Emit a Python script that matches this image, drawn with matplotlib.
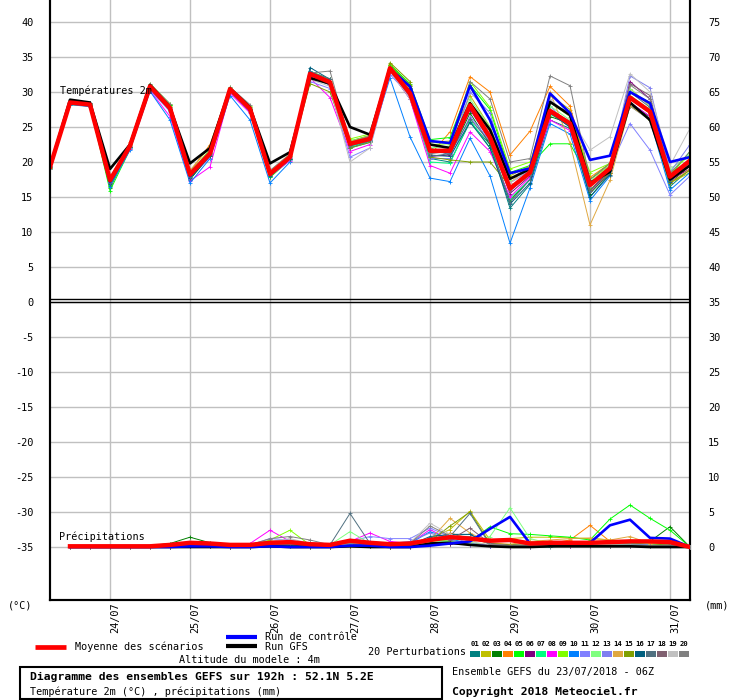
import matplotlib
matplotlib.use("Agg")
import matplotlib.pyplot as plt
from matplotlib.lines import Line2D
from matplotlib.patches import Rectangle
from matplotlib.transforms import ScaledTranslation

plt.rcParams['font.family'] = ['DejaVu Sans Mono']

# échéances en heures depuis le 23/07/2018 06Z
hours = list(range(0, 193, 6))
precip_hours = hours[1:]

day_ticks = [18, 42, 66, 90, 114, 138, 162, 186]
day_labels = ["24/07", "25/07", "26/07", "27/07", "28/07", "29/07", "30/07", "31/07"]

# températures 2m (°C)
temp_mean = [19.3, 28.5, 28.2, 17.4, 22.3, 30.8, 27.7, 18.2, 21.2, 30.4, 27.6, 18.3, 20.7, 32.6, 31.4, 22.6, 23.3,
             33.4, 29.8, 21.6, 21.6, 28.1, 23.5, 16.2, 18.5, 27.3, 25.5, 16.7, 19.1, 29.2, 27.2, 17.9, 20.2]
temp_control = [19.2, 28.5, 28.2, 17.2, 22.3, 30.7, 27.6, 18.0, 21.1, 30.4, 27.5, 18.2, 20.6, 32.7, 31.5, 22.5, 23.4,
                33.3, 30.8, 23.0, 22.7, 30.9, 26.0, 18.4, 19.1, 29.8, 27.0, 20.3, 20.9, 30.0, 28.4, 20.0, 20.7]
temp_gfs = [19.3, 28.9, 28.5, 19.0, 22.5, 31.0, 27.8, 19.8, 22.0, 30.5, 27.8, 19.8, 21.4, 32.0, 31.2, 25.0, 23.9,
            33.2, 30.0, 22.5, 22.0, 28.4, 24.6, 17.6, 19.0, 28.6, 26.7, 17.0, 18.6, 28.5, 26.0, 17.5, 19.5]

t01 = [19.0, 28.3, 28.0, 16.6, 22.0, 30.5, 27.3, 17.6, 20.8, 30.0, 27.2, 17.9, 20.4, 32.2, 31.0, 22.0, 23.0,
       33.0, 29.0, 20.5, 20.0, 25.7, 22.5, 13.4, 16.8, 26.0, 24.8, 15.0, 18.4, 28.5, 26.5, 16.5, 19.0]
t02 = [19.1, 28.6, 28.3, 17.0, 22.4, 30.9, 28.0, 18.0, 21.5, 30.5, 27.9, 18.1, 20.9, 32.0, 31.3, 22.3, 23.5,
       34.0, 31.0, 22.8, 23.0, 29.5, 25.0, 18.0, 19.5, 29.5, 27.5, 17.5, 19.5, 29.0, 27.0, 17.0, 18.5]
t03 = [19.2, 28.4, 28.1, 16.3, 22.1, 30.7, 28.1, 17.5, 21.0, 30.2, 27.6, 18.0, 20.4, 32.8, 31.6, 22.4, 23.0,
       33.8, 30.8, 22.0, 21.0, 27.0, 22.5, 14.5, 17.5, 26.5, 25.5, 15.5, 18.5, 28.0, 26.5, 17.0, 19.5]
t04 = [19.4, 28.7, 28.4, 17.6, 22.8, 31.0, 27.9, 18.6, 22.5, 30.6, 27.8, 18.5, 21.0, 32.9, 31.8, 22.8, 23.6,
       33.6, 30.5, 21.0, 24.3, 32.2, 30.0, 21.0, 24.4, 30.8, 28.0, 17.8, 19.8, 30.5, 28.0, 18.5, 20.0]
t05 = [19.0, 28.2, 28.0, 15.9, 21.8, 30.6, 28.2, 17.8, 21.3, 30.1, 27.7, 17.8, 20.3, 32.4, 31.2, 23.0, 23.8,
       33.9, 31.2, 23.2, 23.5, 31.0, 27.5, 18.5, 19.5, 22.6, 22.6, 17.5, 19.8, 30.0, 28.5, 18.0, 21.5]
t06 = [19.3, 28.5, 28.2, 17.3, 22.2, 30.4, 27.4, 18.3, 21.0, 30.3, 27.5, 18.4, 20.6, 32.5, 31.0, 22.5, 23.2,
       33.2, 29.5, 20.8, 21.0, 27.5, 23.0, 15.5, 18.0, 27.0, 25.0, 16.0, 18.8, 31.5, 29.0, 17.5, 19.0]
t07 = [19.2, 28.4, 28.3, 16.8, 22.0, 30.8, 27.8, 17.9, 21.1, 30.4, 27.4, 18.2, 20.5, 32.6, 31.5, 22.2, 23.0,
       33.5, 29.5, 20.0, 19.8, 26.0, 22.0, 14.8, 17.5, 26.8, 25.5, 16.5, 19.0, 29.0, 27.5, 17.8, 20.5]
t08 = [19.1, 28.3, 28.0, 17.0, 21.8, 30.2, 26.5, 17.3, 19.3, 29.8, 27.0, 18.0, 20.2, 32.0, 29.2, 21.5, 22.5,
       33.0, 29.0, 19.5, 18.4, 24.3, 21.5, 15.0, 17.8, 26.0, 24.5, 15.8, 18.5, 28.5, 26.5, 17.2, 19.5]
t09 = [19.2, 28.6, 28.5, 16.9, 22.4, 31.2, 28.3, 18.5, 21.8, 30.7, 28.0, 18.3, 20.8, 33.0, 31.8, 23.3, 24.0,
       33.8, 30.5, 22.5, 22.6, 31.5, 27.8, 19.0, 20.0, 28.5, 26.5, 18.5, 19.8, 29.5, 27.5, 18.5, 21.0]
t10 = [19.0, 28.2, 27.9, 16.5, 21.7, 30.1, 26.0, 17.0, 20.5, 29.5, 26.0, 17.0, 20.0, 33.0, 31.0, 22.0, 22.8,
       32.0, 23.6, 17.7, 17.2, 23.4, 18.0, 8.4, 16.3, 25.5, 24.0, 14.5, 18.0, 28.0, 26.0, 16.0, 18.5]
t11 = [19.1, 28.4, 28.1, 17.2, 22.0, 30.3, 27.2, 18.0, 20.6, 30.0, 27.3, 18.1, 20.3, 31.5, 30.5, 20.7, 22.0,
       32.5, 29.5, 20.5, 20.5, 26.5, 23.0, 16.0, 18.2, 28.0, 25.0, 17.0, 19.2, 25.5, 21.7, 15.3, 18.0]
t12 = [19.3, 28.5, 28.3, 17.5, 22.5, 30.9, 27.9, 18.1, 21.5, 30.4, 27.7, 18.6, 20.9, 32.7, 31.5, 23.0, 23.6,
       33.4, 30.0, 22.0, 22.3, 29.0, 25.0, 17.5, 19.0, 28.0, 26.0, 17.2, 19.5, 30.5, 28.0, 19.0, 21.0]
t13 = [19.4, 28.6, 28.4, 17.4, 22.3, 30.6, 27.6, 18.2, 21.2, 30.5, 27.8, 18.4, 20.6, 32.3, 31.0, 22.8, 23.3,
       33.2, 30.0, 21.5, 21.2, 30.0, 27.0, 17.0, 18.8, 27.5, 25.8, 16.5, 19.0, 32.3, 30.6, 18.5, 22.5]
t14 = [19.2, 28.5, 28.2, 17.5, 22.6, 30.9, 27.8, 18.8, 22.2, 30.6, 27.9, 18.7, 21.2, 32.8, 31.6, 22.9, 23.8,
       33.3, 29.8, 22.5, 22.0, 28.5, 24.0, 17.0, 19.5, 30.0, 22.7, 11.0, 17.4, 28.0, 26.0, 17.0, 19.0]
t15 = [19.2, 28.4, 28.1, 17.3, 22.2, 30.5, 27.5, 18.0, 20.9, 30.2, 27.4, 18.2, 20.5, 31.2, 30.0, 22.0, 22.8,
       34.2, 31.5, 20.7, 20.3, 20.0, 20.0, 16.5, 18.3, 27.5, 25.0, 16.0, 18.5, 28.5, 26.0, 17.0, 18.8]
t16 = [19.3, 28.6, 28.3, 16.8, 22.1, 30.7, 27.6, 17.7, 20.9, 30.3, 27.6, 18.0, 20.5, 33.5, 31.8, 22.4, 23.2,
       33.6, 30.6, 21.0, 20.8, 25.7, 22.0, 14.0, 17.0, 27.0, 25.0, 15.0, 18.2, 29.0, 27.0, 17.2, 20.0]
t17 = [19.3, 28.5, 28.2, 17.0, 22.2, 30.8, 27.8, 17.9, 21.1, 30.5, 27.5, 18.3, 20.7, 32.9, 31.9, 22.3, 23.0,
       33.5, 29.7, 20.8, 21.2, 26.2, 22.8, 14.2, 17.5, 28.5, 27.0, 15.8, 18.8, 30.0, 27.8, 17.5, 19.8]
t18 = [19.4, 28.7, 28.4, 17.6, 22.3, 30.6, 27.7, 18.4, 21.3, 30.4, 27.6, 18.5, 20.8, 32.4, 31.2, 22.6, 23.4,
       33.1, 29.3, 21.2, 21.5, 27.8, 23.8, 15.8, 18.5, 27.0, 25.5, 16.8, 19.3, 31.2, 29.5, 17.8, 20.5]
t19 = [19.0, 28.4, 28.2, 17.6, 22.5, 30.5, 27.9, 18.3, 21.4, 30.1, 27.9, 18.4, 20.8, 31.8, 30.8, 20.0, 22.0,
       33.0, 29.0, 21.5, 22.0, 28.0, 24.0, 17.0, 19.0, 29.0, 26.5, 21.7, 23.6, 32.6, 30.0, 19.5, 24.8]
t20 = [19.3, 28.7, 28.5, 17.8, 22.6, 31.2, 28.3, 18.6, 21.6, 30.7, 28.2, 18.8, 21.1, 32.7, 33.0, 22.8, 23.7,
       33.4, 30.2, 21.3, 21.7, 31.5, 29.0, 20.0, 20.5, 32.3, 30.9, 17.5, 19.8, 31.0, 29.0, 18.3, 21.5]

# précipitations (mm), de +6h à +192h
precip_mean = [0.1, 0.1, 0.1, 0.1, 0.1, 0.3, 0.6, 0.5, 0.3, 0.3, 0.6, 0.7, 0.4, 0.3, 0.9, 0.6,
               0.4, 0.5, 1.0, 1.4, 1.2, 0.9, 1.0, 0.5, 0.6, 0.6, 0.6, 0.7, 0.8, 0.8, 0.7, 0]
precip_control = [0, 0, 0, 0, 0, 0, 0.1, 0.1, 0, 0, 0.1, 0, 0, 0, 0.2, 0.2,
                  0, 0, 0.2, 0.5, 0.8, 2.6, 4.3, 0.5, 0.5, 0.6, 0.6, 3.1, 3.9, 1.3, 1.2, 0]
precip_gfs = [0, 0, 0, 0, 0, 0, 0, 0, 0, 0, 0.1, 0, 0, 0, 0.1, 0,
              0, 0, 0.5, 0.6, 0.3, 0.1, 0, 0, 0.1, 0.1, 0.1, 0.1, 0.1, 0, 0, 0]

p01 = [0, 0, 0, 0, 0, 0, 0.3, 0.2, 0, 0, 0.2, 0.3, 0.1, 0, 0.3, 0.2,
       0, 0, 1.0, 1.8, 1.8, 0.5, 0, 0, 0, 0.2, 0.3, 0.2, 0.5, 0.3, 0.2, 0]
p02 = [0, 0, 0, 0, 0, 0, 0.2, 0.2, 0, 0, 0.3, 0.4, 0.2, 0, 0.3, 0.3,
       0.2, 0.3, 1.2, 2.5, 5.1, 1.0, 1.2, 1.4, 1.4, 1.3, 1.2, 1.0, 0.8, 0.3, 0.2, 0]
p03 = [0, 0, 0, 0, 0.2, 0.5, 1.4, 0.6, 0.2, 0, 0.3, 0.2, 0, 0, 0.2, 0.2,
       0, 0.2, 0.5, 0.5, 0.4, 0.2, 0.3, 0.4, 0.3, 0.3, 0.5, 0.4, 0.3, 0.8, 2.9, 0]
p04 = [0, 0, 0, 0, 0, 0.2, 0.3, 0.2, 0, 0.2, 0.8, 0.6, 0.2, 0, 0.2, 0.3,
       0.2, 0.3, 1.0, 2.0, 1.2, 0.5, 0.3, 0.4, 0.5, 1.0, 3.1, 0.8, 0.5, 0.4, 0.2, 0]
p05 = [0, 0, 0, 0, 0, 0.2, 0.3, 0.3, 0, 0, 0.3, 0.4, 0.2, 0, 0.4, 0.3,
       0, 0.2, 0.5, 0.6, 0.8, 2.9, 1.9, 1.8, 1.6, 1.4, 1.0, 4.0, 6.0, 4.1, 2.4, 0]
p06 = [0, 0, 0, 0, 0, 0, 0.2, 0.1, 0, 0, 0.5, 0.3, 0, 0, 0.2, 0.2,
       0, 0, 0.3, 0.5, 0.3, 0.2, 0, 0, 0.2, 0.2, 0.2, 0.3, 0.2, 0.2, 0.3, 0]
p07 = [0, 0, 0, 0, 0, 0.1, 0.2, 0.2, 0, 0, 0.3, 0.4, 0.1, 0, 0.5, 0.4,
       0.1, 0.2, 0.6, 0.8, 0.5, 0.3, 0.2, 0.2, 0.2, 0.3, 0.4, 0.3, 0.5, 0.4, 0.2, 0]
p08 = [0, 0, 0, 0, 0, 0, 0.2, 0.2, 0, 0.5, 2.4, 0.8, 0.2, 0, 0.8, 2.0,
       0.8, 0.5, 2.5, 1.0, 0.4, 0.2, 0, 0.2, 0.2, 0.2, 0.3, 0.3, 0.2, 0.2, 0.2, 0]
p09 = [0, 0, 0, 0, 0, 0.2, 0.4, 0.5, 0.3, 0.2, 1.0, 2.4, 0.3, 0, 0.4, 0.3,
       0.2, 0.3, 0.8, 1.0, 0.6, 0.3, 0.2, 0.3, 0.3, 0.5, 0.6, 0.5, 1.0, 0.6, 0.4, 0]
p10 = [0, 0, 0, 0, 0, 0, 0.1, 0.1, 0, 0, 0.3, 0.2, 0.3, 0.4, 0.5, 0.3,
       0.2, 0.5, 2.2, 1.2, 0.4, 0.2, 0.3, 0.2, 0.3, 0.5, 0.6, 0.4, 0.3, 0.2, 0.2, 0]
p11 = [0, 0, 0, 0, 0, 0.2, 0.4, 0.4, 0.2, 0.3, 1.2, 1.0, 0.4, 0.2, 0.8, 1.5,
       1.2, 1.2, 2.7, 1.5, 0.5, 0.3, 0.2, 0.2, 0.3, 0.4, 0.4, 0.3, 0.4, 0.3, 0.2, 0]
p12 = [0, 0, 0, 0, 0, 0.3, 0.5, 0.5, 0.2, 0.2, 0.6, 0.5, 0.3, 0.3, 2.2, 0.5,
       0.3, 0.3, 1.0, 0.8, 0.6, 1.5, 5.6, 1.2, 0.5, 0.4, 0.5, 0.6, 0.8, 0.5, 0.3, 0]
p13 = [0, 0, 0, 0, 0, 0, 0.2, 0.2, 0, 0, 0.4, 0.5, 0.2, 0, 0.6, 0.8,
       0.5, 0.8, 2.0, 1.0, 0.4, 0.3, 0.2, 0.3, 0.2, 0.3, 0.4, 0.3, 0.2, 0.2, 0.2, 0]
p14 = [0, 0, 0, 0, 0, 0, 0.2, 0.3, 0, 0.2, 0.5, 0.6, 0.2, 0, 0.3, 0.3,
       0.2, 0.3, 1.0, 4.1, 2.0, 0.6, 0.4, 0.8, 1.0, 1.2, 1.3, 1.0, 1.5, 0.5, 0.3, 0]
p15 = [0, 0, 0, 0, 0, 0, 0.1, 0.2, 0, 0, 0.3, 0.3, 0, 0, 0.2, 0.2,
       0, 0.2, 0.8, 3.0, 5.0, 0.5, 0.3, 0.2, 0.2, 0.3, 0.4, 0.3, 0.3, 0.2, 0.5, 0]
p16 = [0, 0, 0, 0, 0, 0, 0.2, 0.2, 0, 0, 0.2, 0.3, 0.1, 0, 0.3, 0.3,
       0.2, 0.3, 1.5, 1.8, 1.8, 0.4, 0.2, 0.2, 0.2, 0.3, 0.3, 0.2, 0.3, 0.2, 0.2, 0]
p17 = [0, 0, 0, 0, 0, 0, 0.2, 0.2, 0, 0, 0.3, 0.4, 0.2, 0.3, 4.8, 0.5,
       0.2, 0.3, 1.2, 1.5, 4.8, 0.3, 0.2, 0.2, 0.2, 0.3, 0.3, 0.2, 0.2, 0.2, 0.3, 0]
p18 = [0, 0, 0, 0, 0, 0, 0.1, 0.2, 0, 0, 0.3, 0.5, 0.3, 0, 0.3, 0.3,
       0.2, 0.5, 1.2, 1.0, 2.7, 0.5, 0.2, 0.2, 0.2, 0.2, 0.3, 0.2, 0.2, 0.2, 0.2, 0]
p19 = [0, 0, 0, 0, 0, 0.1, 0.3, 0.3, 0.1, 0.2, 0.8, 1.2, 0.5, 0.2, 0.5, 0.5,
       0.3, 0.6, 3.4, 1.8, 0.8, 0.3, 0.2, 0.3, 0.2, 0.3, 0.4, 0.3, 0.3, 0.2, 0.2, 0]
p20 = [0, 0, 0, 0, 0, 0.2, 0.3, 0.4, 0.1, 0.3, 1.2, 1.5, 1.0, 0.3, 0.5, 0.4,
       0.2, 0.5, 3.0, 1.6, 1.5, 0.4, 0.2, 0.2, 0.2, 0.3, 0.3, 0.2, 0.2, 0.2, 0.2, 0]

member_temps = [t01, t02, t03, t04, t05, t06, t07, t08, t09, t10,
                t11, t12, t13, t14, t15, t16, t17, t18, t19, t20]
member_precips = [p01, p02, p03, p04, p05, p06, p07, p08, p09, p10,
                  p11, p12, p13, p14, p15, p16, p17, p18, p19, p20]
member_colors = ["#008080", "#c0c000", "#008000", "#ff8000", "#00ff00", "#800080", "#00ff80",
                 "#ff00ff", "#80ff00", "#0080ff", "#8080ff", "#80ff80", "#7f7ff0", "#e0a840",
                 "#80a000", "#006080", "#507080", "#806070", "#c0c0c0", "#808080"]

W, H = 740, 700


def fx(x):
    return x / W


def fy(y):
    return 1 - y / H


fig = plt.figure(figsize=(W / 100, H / 100), dpi=100)
ax = fig.add_axes([fx(50), 100 / H, 640 / W, 600 / H])
ax2 = ax.twinx()

# 7 px par unité, 0°C à y=302
lo, hi = (302 - 600) / 7, 302 / 7
ax.set_xlim(0, 192)
ax.set_ylim(lo, hi)
ax2.set_ylim(lo + 35, hi + 35)

# températures
for temps, c in zip(member_temps, member_colors):
    ax.plot(hours, temps, color=c, lw=0.7, marker='+', ms=3, mew=0.6, zorder=3)
ax.plot(hours, temp_gfs, color='black', lw=1.9, zorder=4)
ax.plot(hours, temp_control, color='#0000ff', lw=1.9, zorder=5)
ax.plot(hours, temp_mean, color='#ff0000', lw=3.2, zorder=6)

# précipitations (axe de droite, mm)
for pr, c in zip(member_precips, member_colors):
    ax2.plot(precip_hours, pr, color=c, lw=0.7, marker='+', ms=3, mew=0.6, zorder=3)
ax2.plot(precip_hours, precip_gfs, color='black', lw=1.9, zorder=4)
ax2.plot(precip_hours, precip_control, color='#0000ff', lw=1.9, zorder=5)
ax2.plot(precip_hours, precip_mean, color='#ff0000', lw=3.2, zorder=6)

# grilles et séparation
ax.set_yticks(range(-35, 41, 5))
ax.set_yticklabels([str(v) for v in range(-35, 41, 5)])
ax2.set_yticks(range(0, 76, 5))
ax2.set_yticklabels([str(v) for v in range(0, 76, 5)])
ax.set_xticks(day_ticks)
ax.set_xticklabels(day_labels, rotation=90, va='top', ha='center')
ax.grid(True, color='#c0c0c0', lw=1)
ax.set_axisbelow(True)
ax.axhline(0.43, color='black', lw=1, zorder=7)
ax.axhline(0.0, color='black', lw=1, zorder=7)

for a in (ax, ax2):
    a.tick_params(length=0, labelsize=7.4)
    a.spines['top'].set_visible(False)
    for s in ('left', 'right', 'bottom'):
        a.spines[s].set_linewidth(1.5)
ax.tick_params(axis='y', pad=12)
ax2.tick_params(axis='y', pad=13)
ax.tick_params(axis='x', pad=2)
for lab in ax.get_xticklabels():
    lab.set_transform(lab.get_transform() + ScaledTranslation(0.05, 0, fig.dpi_scale_trans))

fs = 7.3
fig.text(fx(60), fy(91), "Températures 2m", fontsize=fs, va='center', ha='left')
fig.text(fx(59), fy(537), "Précipitations", fontsize=fs, va='center', ha='left')
fig.text(fx(8), fy(606), "(°C)", fontsize=fs, va='center', ha='left')
fig.text(fx(705), fy(606), "(mm)", fontsize=fs, va='center', ha='left')

# légende
fig.add_artist(Line2D([fx(35), fx(66)], [fy(647), fy(647)], color='#ff0000', lw=3.4,
                      solid_capstyle='butt'))
fig.text(fx(75), fy(647), "Moyenne des scénarios", fontsize=fs, va='center', ha='left')
fig.add_artist(Line2D([fx(226), fx(257)], [fy(637), fy(637)], color='#0000ff', lw=3,
                      solid_capstyle='butt'))
fig.text(fx(265), fy(637), "Run de contrôle", fontsize=fs, va='center', ha='left')
fig.add_artist(Line2D([fx(226), fx(257)], [fy(646), fy(646)], color='black', lw=3,
                      solid_capstyle='butt'))
fig.text(fx(265), fy(647), "Run GFS", fontsize=fs, va='center', ha='left')
fig.text(fx(249), fy(660), "Altitude du modele : 4m", fontsize=fs, va='center', ha='center')
fig.text(fx(466), fy(652), "20 Perturbations", fontsize=fs, va='center', ha='right')
for i, c in enumerate(member_colors):
    fig.add_artist(Rectangle((fx(470 + 11 * i), fy(656.5)), 10 / W, 6 / H,
                             transform=fig.transFigure, color=c, lw=0))
    fig.text(fx(475 + 11 * i), fy(644), "%02d" % (i + 1), fontsize=5.2, weight='bold',
             va='center', ha='center')

fig.add_artist(Rectangle((fx(20), fy(699)), 422 / W, 32 / H, transform=fig.transFigure,
                         fill=False, ec='black', lw=1.5))
fig.text(fx(30), fy(677), "Diagramme des ensembles GEFS sur 192h : 52.1N 5.2E", fontsize=8.2,
         weight='bold', va='center', ha='left')
fig.text(fx(30), fy(692), "Température 2m (°C) , précipitations (mm)", fontsize=fs,
         va='center', ha='left')
fig.text(fx(452), fy(672), "Ensemble GEFS du 23/07/2018 - 06Z", fontsize=fs, va='center', ha='left')
fig.text(fx(452), fy(692), "Copyright 2018 Meteociel.fr", fontsize=8.2, weight='bold',
         va='center', ha='left')

fig.savefig("out.png", dpi=100)
